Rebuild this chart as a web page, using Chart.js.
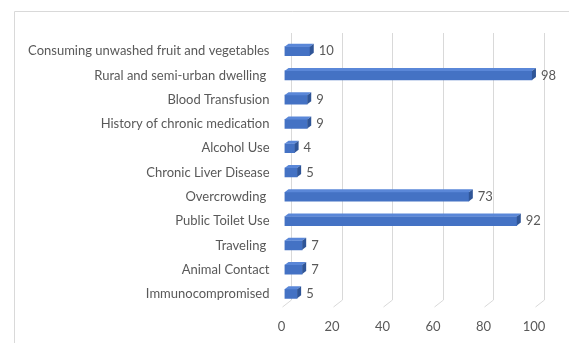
<!DOCTYPE html>
<html>
<head>
<meta charset="utf-8">
<script src="https://cdn.jsdelivr.net/npm/chart.js@4"></script>
<style>
  html, body { margin: 0; padding: 0; background: #fff; }
  #wrap { width: 569px; height: 343px; }
</style>
</head>
<body>
<div id="wrap"><canvas id="barChart" width="569" height="343"></canvas></div>
<script>
// Categories top to bottom
const categories = [
    'Consuming unwashed fruit and vegetables',
    'Rural and semi-urban dwelling ',
    'Blood Transfusion',
    'History of chronic medication',
    'Alcohol Use',
    'Chronic Liver Disease',
    'Overcrowding ',
    'Public Toilet Use',
    'Traveling ',
    'Animal Contact',
    'Immunocompromised'
];
const counts = [10, 98, 9, 9, 4, 5, 73, 92, 7, 7, 5];
const xTicks = [0, 20, 40, 60, 80, 100];

const textColor = '#595959';
const gridColor = '#d9d9d9';
const fontFamily = 'Lato, "Open Sans", sans-serif';

// draws the frame, back gridlines, and the 3D faces + value labels
const threeD = {
    id: 'threeD',
    beforeDraw(chart) {
        const c = chart.ctx;
        c.save();
        c.strokeStyle = gridColor;
        c.lineWidth = 1;
        c.beginPath();
        c.moveTo(14.5, 400);
        c.lineTo(14.5, 11.5);
        c.lineTo(600, 11.5);
        c.stroke();
        c.restore();
    },
    beforeDatasetsDraw(chart) {
        const c = chart.ctx;
        const xs = chart.scales.x;
        const area = chart.chartArea;
        c.save();
        c.strokeStyle = gridColor;
        c.lineWidth = 1;
        xTicks.forEach(v => {
            const xb = Math.round(xs.getPixelForValue(v) + 6.5) + 0.5;
            c.beginPath();
            c.moveTo(xb, area.top - 6);
            c.lineTo(xb, area.bottom - 6);
            c.lineTo(xb - 9, area.bottom + 1);
            c.stroke();
        });
        c.restore();
    },
    afterDatasetsDraw(chart) {
        const c = chart.ctx;
        const meta = chart.getDatasetMeta(0);
        const dx = 4, dy = 3;
        c.save();
        meta.data.forEach((bar, i) => {
            const p = bar.getProps(['x', 'y', 'base', 'height'], true);
            const top = p.y - p.height / 2;
            // top face
            c.fillStyle = '#5a87d8';
            c.beginPath();
            c.moveTo(p.base, top);
            c.lineTo(p.base + dx, top - dy);
            c.lineTo(p.x + dx, top - dy);
            c.lineTo(p.x, top);
            c.closePath();
            c.fill();
            // side face
            c.fillStyle = '#2f5597';
            c.beginPath();
            c.moveTo(p.x, top);
            c.lineTo(p.x + dx, top - dy);
            c.lineTo(p.x + dx, top - dy + p.height);
            c.lineTo(p.x, top + p.height);
            c.closePath();
            c.fill();
            // value label
            c.fillStyle = textColor;
            c.font = '13px ' + fontFamily;
            c.textAlign = 'left';
            c.textBaseline = 'middle';
            c.fillText(counts[i], p.x + dx + 5, p.y);
        });
        c.restore();
    }
};

const ctx = document.getElementById('barChart').getContext('2d');
const barChart = new Chart(ctx, {
    type: 'bar',
    data: {
        labels: categories,
        datasets: [{
            data: counts,
            backgroundColor: '#4472c4',
            borderWidth: 0,
            barThickness: 9
        }]
    },
    options: {
        indexAxis: 'y',
        responsive: false,
        animation: false,
        layout: { padding: { top: 39, right: 32, bottom: 0, left: 0 } },
        plugins: {
            legend: { display: false },
            tooltip: { enabled: false }
        },
        scales: {
            x: {
                min: 0,
                max: 100,
                afterBuildTicks(scale) {
                    scale.ticks = xTicks.map(v => ({ value: v }));
                },
                afterFit(scale) { scale.height = 37; },
                grid: { display: false, drawTicks: false },
                border: { display: false },
                ticks: {
                    color: textColor,
                    font: { family: fontFamily, size: 13 },
                    padding: 13,
                    labelOffset: -3,
                    maxRotation: 0
                }
            },
            y: {
                afterFit(scale) { scale.width = 284.5; },
                grid: { display: false, drawTicks: false },
                border: { display: false },
                ticks: {
                    color: textColor,
                    font: { family: fontFamily, size: 13 },
                    padding: 15,
                    autoSkip: false
                }
            }
        }
    },
    plugins: [threeD]
});
</script>
</body>
</html>
